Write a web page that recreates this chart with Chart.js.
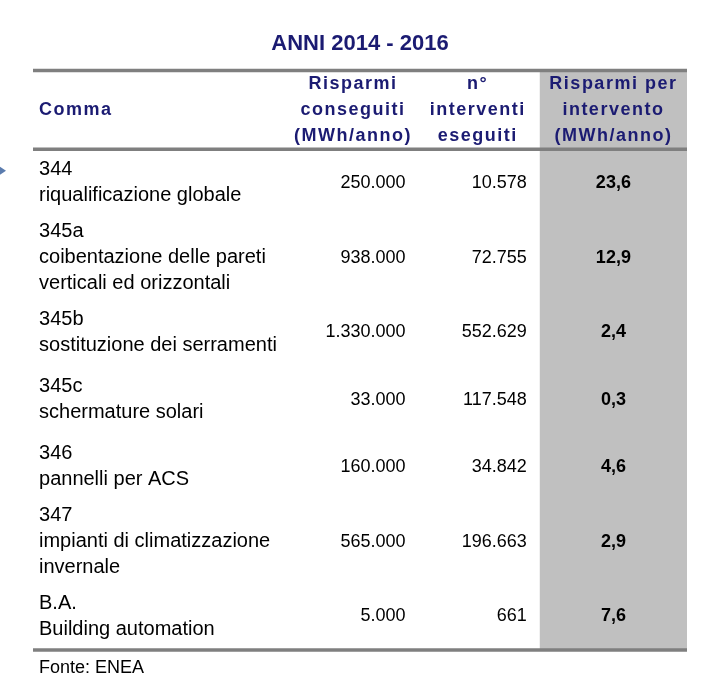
<!DOCTYPE html>
<html>
<head>
<meta charset="utf-8">
<script src="https://cdn.jsdelivr.net/npm/chart.js@4.4.0/dist/chart.umd.min.js"></script>
<style>
  html, body { margin: 0; padding: 0; background: #fff; }
  #wrap { width: 726px; height: 693px; }
</style>
</head>
<body>
<div id="wrap"><canvas id="myChart"></canvas></div>
<script>
// ============== data ==============
const titleText = "ANNI 2014 - 2016";
const sourceText = "Fonte: ENEA";
const headers = [
  ["Comma"],
  ["Risparmi", "conseguiti", "(MWh/anno)"],
  ["n°", "interventi", "eseguiti"],
  ["Risparmi per", "intervento", "(MWh/anno)"],
];
const codes = ["344", "345a", "345b", "345c", "346", "347", "B.A."];
const descriptions = [
  ["riqualificazione globale"],
  ["coibentazione delle pareti", "verticali ed orizzontali"],
  ["sostituzione dei serramenti"],
  ["schermature solari"],
  ["pannelli per ACS"],
  ["impianti di climatizzazione", "invernale"],
  ["Building automation"],
];
const savings = [250000, 938000, 1330000, 33000, 160000, 565000, 5000];
const interventions = [10578, 72755, 552629, 117548, 34842, 196663, 661];
const perIntervention = [23.6, 12.9, 2.4, 0.3, 4.6, 2.9, 7.6];

// ============== layout ==============
const NAVY = "#1b1b72";
const FONT = '"Liberation Sans", Arial, sans-serif';
const colEdges = [0, 257, 382, 506, 653]; // table units (x scale)
const headerUnits = 3.05;
const rowUnits = descriptions.map((d) => 1.4 + 0.6 * (d.length + 1));
const rowStarts = [];
let acc = headerUnits;
for (const u of rowUnits) {
  rowStarts.push(acc);
  acc += u;
}
const tableUnits = acc;

const fmtInt = (n) => String(n).replace(/\B(?=(\d{3})+(?!\d))/g, ".");
const fmtDec = (n) => n.toFixed(1).replace(".", ",");

function drawText(ctx, str, px, py, font, color, align, spacing) {
  ctx.save();
  ctx.font = font;
  ctx.fillStyle = color;
  ctx.textAlign = align;
  ctx.textBaseline = "middle";
  if ("letterSpacing" in ctx) ctx.letterSpacing = spacing || "0px";
  ctx.fillText(str, px, py);
  ctx.restore();
}

const tablePlugin = {
  id: "tablePlugin",
  beforeDatasetsDraw(chart) {
    const ctx = chart.ctx;
    const xs = chart.scales.x;
    const ys = chart.scales.y;
    const X = (v) => xs.getPixelForValue(v);
    const Y = (v) => ys.getPixelForValue(v);

    // gray highlight column
    ctx.fillStyle = "#c0c0c0";
    ctx.fillRect(X(colEdges[3]), Y(0), X(colEdges[4]) - X(colEdges[3]), Y(tableUnits) - Y(0));

    // rules
    ctx.strokeStyle = "#7f7f7f";
    ctx.lineWidth = 3.5;
    for (const v of [0, headerUnits, tableUnits]) {
      ctx.beginPath();
      ctx.moveTo(X(colEdges[0]), Y(v));
      ctx.lineTo(X(colEdges[4]), Y(v));
      ctx.stroke();
    }

    // header
    const headFont = `bold 18px ${FONT}`;
    const hMid = headerUnits / 2;
    headers.forEach((lines, c) => {
      lines.forEach((txt, i) => {
        const yy = Y(hMid + (i - (lines.length - 1) / 2));
        if (c === 0) {
          drawText(ctx, txt, X(6), yy, headFont, NAVY, "left", "1.5px");
        } else {
          drawText(ctx, txt, X((colEdges[c] + colEdges[c + 1]) / 2), yy, headFont, NAVY, "center", "1.5px");
        }
      });
    });

    // rows
    const labelFont = `20px ${FONT}`;
    const numFont = `18px ${FONT}`;
    const boldFont = `bold 18px ${FONT}`;
    codes.forEach((code, r) => {
      const lines = [code].concat(descriptions[r]);
      const mid = rowStarts[r] + rowUnits[r] / 2;
      lines.forEach((txt, i) => {
        drawText(ctx, txt, X(6), Y(mid + (i - (lines.length - 1) / 2)), labelFont, "#000", "left");
      });
      drawText(ctx, fmtInt(savings[r]), X(colEdges[2] - 10), Y(mid), numFont, "#000", "right");
      drawText(ctx, fmtInt(interventions[r]), X(colEdges[3] - 13), Y(mid), numFont, "#000", "right");
      drawText(ctx, fmtDec(perIntervention[r]), X((colEdges[3] + colEdges[4]) / 2), Y(mid), boldFont, "#000", "center");
    });

    // source note
    drawText(ctx, sourceText, X(6), Y(tableUnits) + 18, `18px ${FONT}`, "#000", "left");

    // small slide bullet on the left edge
    const by = Y(rowStarts[0] + rowUnits[0] / 2 - 0.5) + 1;
    ctx.fillStyle = "#5b7cae";
    ctx.beginPath();
    ctx.moveTo(X(0) - 33, by - 4);
    ctx.lineTo(X(0) - 27, by);
    ctx.lineTo(X(0) - 33, by + 4);
    ctx.closePath();
    ctx.fill();
  },
};

let myChart = document.getElementById("myChart");
new Chart(myChart.getContext("2d"), {
  type: "scatter",
  data: { datasets: [] },
  options: {
    responsive: true,
    maintainAspectRatio: false,
    animation: false,
    layout: { padding: { left: 33, right: 39, top: 0, bottom: 43 } },
    plugins: {
      legend: { display: false },
      tooltip: { enabled: false },
      title: {
        display: true,
        text: titleText,
        color: NAVY,
        font: { family: FONT, size: 22, weight: "bold" },
        padding: { top: 31, bottom: 13 },
      },
    },
    scales: {
      x: { type: "linear", min: 0, max: colEdges[4], display: false },
      y: { type: "linear", min: 0, max: tableUnits, reverse: true, display: false },
    },
  },
  plugins: [tablePlugin],
});
</script>
</body>
</html>
